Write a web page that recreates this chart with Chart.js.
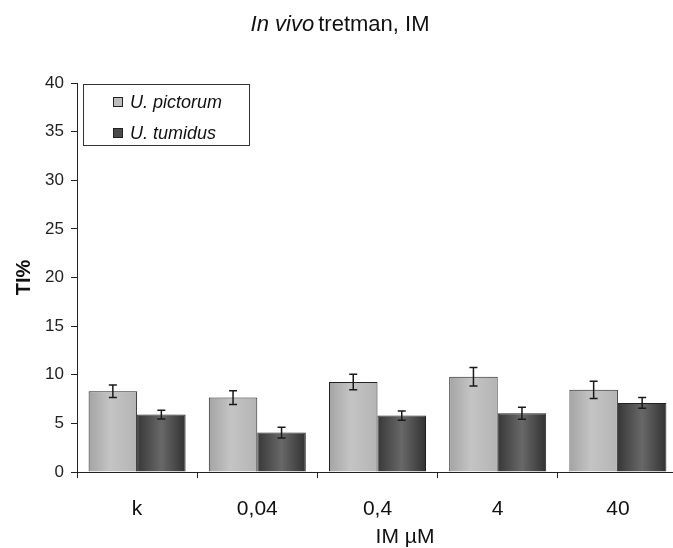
<!DOCTYPE html>
<html>
<head>
<meta charset="utf-8">
<script src="https://cdn.jsdelivr.net/npm/chart.js@4/dist/chart.umd.min.js"></script>
<style>
html,body{margin:0;padding:0;background:#fff;overflow:hidden;}
#wrap{position:relative;width:690px;height:548px;}
</style>
</head>
<body>
<div id="wrap"><canvas id="c"></canvas></div>
<script>
const categories = ['k', '0,04', '0,4', '4', '40'];
const pictorum = [8.3, 7.65, 9.25, 9.8, 8.45];
const pictorumErr = [0.65, 0.7, 0.8, 0.95, 0.88];
const tumidus = [5.9, 4.05, 5.8, 6.05, 7.1];
const tumidusErr = [0.45, 0.55, 0.48, 0.62, 0.55];
const seriesNames = ['U. pictorum', 'U. tumidus'];
const yTicks = [0, 5, 10, 15, 20, 25, 30, 35, 40];
const titleItalic = 'In vivo';
const titleRest = 'tretman, IM';
const xTitle = 'IM µM';
const yTitle = 'TI%';

const FONT = '"Liberation Sans", Arial, sans-serif';
const errs = [pictorumErr, tumidusErr];
const gradStops = [
  [[0,'#a4a4a4'],[0.45,'#c4c4c4'],[1,'#b4b4b4']],
  [[0,'#383838'],[0.5,'#686868'],[1,'#323232']]
];
const swatch = ['#bdbdbd', '#4a4a4a'];

const gradPlugin = {
  id: 'grad',
  beforeDatasetsDraw(chart) {
    const ctx = chart.ctx;
    chart.data.datasets.forEach((ds, i) => {
      const meta = chart.getDatasetMeta(i);
      meta.data.forEach(el => {
        const l = el.x - el.width / 2, r = el.x + el.width / 2;
        const g = ctx.createLinearGradient(l, 0, r, 0);
        gradStops[i].forEach(s => g.addColorStop(s[0], s[1]));
        el.options = Object.assign({}, el.options, { backgroundColor: g });
      });
    });
  }
};

const errPlugin = {
  id: 'errbars',
  afterDatasetsDraw(chart) {
    const ctx = chart.ctx, y = chart.scales.y;
    ctx.save();
    ctx.strokeStyle = '#1a1a1a';
    ctx.lineWidth = 1.5;
    chart.data.datasets.forEach((ds, i) => {
      const meta = chart.getDatasetMeta(i);
      meta.data.forEach((el, j) => {
        const v = ds.data[j], e = errs[i][j];
        const yt = y.getPixelForValue(v + e), yb = y.getPixelForValue(v - e);
        const x = el.x, cw = 4;
        ctx.beginPath();
        ctx.moveTo(x, yt); ctx.lineTo(x, yb);
        ctx.moveTo(x - cw, yt); ctx.lineTo(x + cw, yt);
        ctx.moveTo(x - cw, yb); ctx.lineTo(x + cw, yb);
        ctx.stroke();
      });
    });
    ctx.restore();
  }
};

const decoPlugin = {
  id: 'deco',
  afterDraw(chart) {
    const ctx = chart.ctx;
    ctx.save();
    ctx.fillStyle = '#111';
    ctx.textBaseline = 'middle';
    // title with mixed styles
    ctx.font = 'italic 22px ' + FONT;
    const w1 = ctx.measureText(titleItalic + ' ').width;
    ctx.font = '22px ' + FONT;
    const w2 = ctx.measureText(titleRest).width;
    const cx = 341;
    let x0 = cx - (w1 + w2) / 2;
    ctx.textAlign = 'left';
    ctx.font = 'italic 22px ' + FONT;
    ctx.fillText(titleItalic, x0, 25);
    ctx.font = '22px ' + FONT;
    ctx.fillText(titleRest, x0 + w1 - 2, 25);
    // x title
    ctx.textAlign = 'center';
    ctx.font = '21px ' + FONT;
    ctx.fillText(xTitle, 405, 537);
    // legend
    ctx.strokeStyle = '#333';
    ctx.lineWidth = 1;
    ctx.fillStyle = '#fff';
    ctx.fillRect(83.5, 84.5, 166, 61);
    ctx.strokeRect(83.5, 84.5, 166, 61);
    const rows = [102, 133];
    chart.data.datasets.forEach((ds, i) => {
      ctx.fillStyle = swatch[i];
      ctx.fillRect(113.5, rows[i] - 4.5, 9, 9);
      ctx.strokeStyle = '#222';
      ctx.strokeRect(113.5, rows[i] - 4.5, 9, 9);
      ctx.fillStyle = '#111';
      ctx.textAlign = 'left';
      ctx.font = 'italic 18px ' + FONT;
      ctx.fillText(ds.label, 130, rows[i] + 1);
    });
    ctx.restore();
  }
};

new Chart(document.getElementById('c'), {
  type: 'bar',
  data: {
    labels: categories,
    datasets: [
      { label: seriesNames[0], data: pictorum, backgroundColor: '#bdbdbd', borderColor: '#222', borderWidth: 1 },
      { label: seriesNames[1], data: tumidus, backgroundColor: '#4a4a4a', borderColor: '#222', borderWidth: 1 }
    ]
  },
  options: {
    responsive: true,
    maintainAspectRatio: false,
    animation: false,
    devicePixelRatio: 1,
    layout: { padding: { top: 83, right: 12, left: 0, bottom: 0 } },
    datasets: { bar: { categoryPercentage: 0.807, barPercentage: 1.0 } },
    plugins: { legend: { display: false }, title: { display: false }, tooltip: { enabled: false } },
    scales: {
      x: {
        grid: { display: true, drawOnChartArea: false, drawTicks: true, tickLength: 6, color: '#222', offset: true },
        border: { display: true, color: '#222', width: 1 },
        ticks: { color: '#111', font: { family: FONT, size: 21 }, padding: 19 },
        afterFit(s) { s.height = 76; }
      },
      y: {
        min: 0, max: 40,
        afterBuildTicks(s) { s.ticks = yTicks.map(v => ({ value: v })); },
        grid: { display: true, drawOnChartArea: false, drawTicks: true, tickLength: 6, color: '#222' },
        border: { display: true, color: '#222', width: 1 },
        ticks: { color: '#222', font: { family: FONT, size: 17 }, padding: 7 },
        title: { display: true, text: yTitle, color: '#111', font: { family: FONT, size: 20, weight: 'bold' }, padding: { top: 12, bottom: 0 } },
        afterFit(s) { s.width = 77; }
      }
    }
  },
  plugins: [gradPlugin, errPlugin, decoPlugin]
});
</script>
</body>
</html>
